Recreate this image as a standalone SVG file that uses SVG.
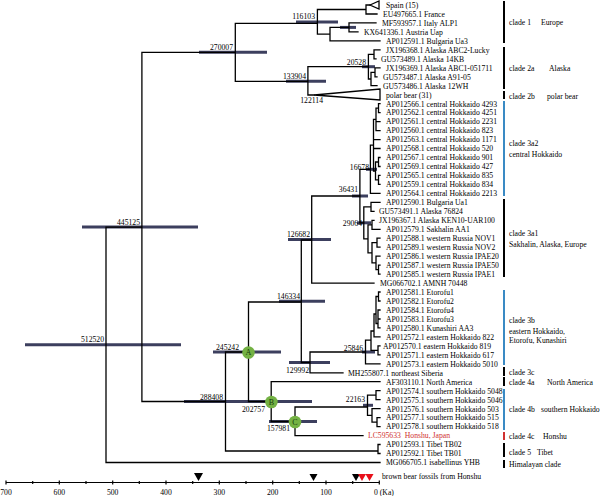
<svg xmlns="http://www.w3.org/2000/svg" width="600" height="496" viewBox="0 0 600 496">
<style>
text{font-family:"Liberation Serif","Times New Roman",serif;font-size:7.7px;fill:#000}
.br{fill:none;stroke:#000;stroke-width:1.3;stroke-linecap:square}
.hpd{fill:none;stroke:#3c3f5e;stroke-width:3}
.nl{text-anchor:end}
.cb{stroke:#000;stroke-width:2}
.cbb{stroke:#3a8ac4;stroke-width:2}
.cbr{stroke:#d03030;stroke-width:2}
.circ{fill:#74b244}
.cl{font-size:8px;text-anchor:middle;fill:#173a0c}
.ax{stroke:#000;stroke-width:1.2}
.tk{text-anchor:middle}
</style>
<rect width="600" height="496" fill="#fff"/>
<g id="connectors">
<g class="hpd">
<path d="M25 344.8H181"/>
<path d="M82 227.1H198"/>
<path d="M199 52.3H267"/>
<path d="M296 21.9H338"/>
<path d="M286 81.3H326"/>
<path d="M362 66.7H375"/>
<path d="M184 401.5H262"/>
<path d="M213 352H281"/>
<path d="M240 401.5H312"/>
<path d="M269 421.5H317"/>
<path d="M279 301.3H325"/>
<path d="M288 239.5H331"/>
<path d="M352 196H368"/>
<path d="M366 169.3H377"/>
<path d="M357 222.8H371"/>
<path d="M289 362.4H330"/>
<path d="M362 352H375"/>
<path d="M363 405.3H373"/>
<path d="M340 27.4H356"/>
</g>
<path class="br" d="M106 227.1V462.5M106 227.1H141.9M106 462.5H380
M141.9 52.3V401.5M141.9 52.3H235.3M141.9 401.5H225.5
M235.3 23.3V81.3M235.3 23.3H317.4M235.3 81.3H307.9
M317.4 9.5V34.2M317.4 9.5H366M317.4 34.2H330
M366 5V14M366 5H370M366 14H377
M330 27.4V40.9M330 27.4H349M330 40.9H380
M349 22.9V31.9M349 22.9H376M349 31.9H358
M307.9 66.7V95M307.9 66.7H368.4M307.9 95H314.2
M368.4 54.4V79M368.4 54.4H374M368.4 79H371
M374 49.9V58.8M374 49.9H380M374 58.8H376
M371 72.3V85.7M371 72.3H375M371 85.7H377
M375 67.8V76.8M375 67.8H380M375 76.8H377
M225.5 352V451M225.5 451H378M225.5 352H248.5
M378 444.5V453.5M378 444.5H380M378 453.5H380
M248.5 302V401.5M248.5 302H301.3M248.5 401.5H271.2
M271.2 381.7V421.5M271.2 381.7H380M271.2 421.5H295
M295 407V435.6M295 407H367.5M295 435.6H363
M367.5 395.2V415.4M367.5 395.2H376M367.5 415.4H372
M376 390.7V399.7M376 390.7H380M376 399.7H380
M372 408.7V422.1M372 408.7H380M372 422.1H377
M377 417.6V426.6M377 417.6H380M377 426.6H380
M301.3 240V362.5M301.3 240H311.7M301.3 362.5H310
M311.7 196V283.1M311.7 196H359.9M311.7 283.1H374
M359.9 169.3V222.8M359.9 169.3H370.4M359.9 222.8H363.8
M370.4 145.2V193.4M370.4 145.2H373.5M370.4 193.4H380
M373.5 119.4V171M373.5 119.4H376M373.5 171H375.5M373.5 139.6H380M373.5 148.5H380
M376 108.2V130.6M376 108.2H378.5M376 121.6H380M376 130.6H380
M378.5 103.7V112.6M378.5 103.7H380M378.5 112.6H380
M375.5 162V179.9M375.5 162H378.5M375.5 179.9H378.5
M378.5 157.5V166.5M378.5 157.5H380M378.5 166.5H380
M378.5 175.4V184.4M378.5 175.4H380M378.5 184.4H380
M363.8 206.8V238.8M363.8 206.8H371M363.8 238.8H368
M371 202.3V211.3M371 202.3H380M371 211.3H374
M368 224.8V252.8M368 224.8H372M368 252.8H372
M372 220.3V229.3M372 220.3H374M372 229.3H380
M372 242.7V262.9M372 242.7H377M372 262.9H376
M377 238.2V247.2M377 238.2H380M377 247.2H380
M376 256.2V269.6M376 256.2H380M376 269.6H378.5
M378.5 265.1V274.1M378.5 265.1H380M378.5 274.1H380
M310 352V372.8M310 352H365.5M310 372.8H343
M365.5 340.2V363.8M365.5 340.2H371M365.5 363.8H380
M371 331V350.4M371 331H374M371 350.4H378
M378 345.9V354.8M378 345.9H380M378 354.8H380
M374 314V336.9M374 314H376M374 336.9H380
M376 296.5V323.5M376 296.5H378.5M376 323.5H378
M378.5 292V301M378.5 292H380M378.5 301H380
M378 310V327.9M378 310H380M378 319H380M378 327.9H380"/>
<path class="br" d="M370 5L379 1V9Z"/>
<path class="br" d="M314.2 95L380 89V100Z"/>
</g>
<g id="nodeA"><text class="nl" x="239" y="350">245242</text><circle class="circ" cx="248.5" cy="352.5" r="6.3"/><text class="cl" x="248.5" y="355.3">A</text></g>
<g id="nodeB"><text class="nl" x="265" y="411.5">202757</text><circle class="circ" cx="271.4" cy="402" r="6.3"/><text class="cl" x="271.4" y="404.8">B</text></g>
<g id="nodeC"><text class="nl" x="290" y="430.5">157981</text><circle class="circ" cx="295" cy="422" r="6.3"/><text class="cl" x="295" y="424.8">C</text></g>
<g id="node-labels">
<text class="nl" x="104" y="342">512520</text>
<text class="nl" x="140" y="224.5">445125</text>
<text class="nl" x="233" y="49.5">270007</text>
<text class="nl" x="315" y="19">116103</text>
<text class="nl" x="306" y="78.5">133904</text>
<text class="nl" x="323" y="103">122114</text>
<text class="nl" x="366" y="64.5">20528</text>
<text class="nl" x="369" y="170">16678</text>
<text class="nl" x="358" y="192">36431</text>
<text class="nl" x="362" y="226">29064</text>
<text class="nl" x="310" y="237">126682</text>
<text class="nl" x="300" y="298.5">146334</text>
<text class="nl" x="223" y="399.5">288408</text>
<text class="nl" x="309" y="373">129992</text>
<text class="nl" x="363" y="350.5">25846</text>
<text class="nl" x="365" y="402">22163</text>
</g>
<g id="tips">
<text x="386" y="7.8">Spain (15)</text>
<text x="383" y="16.8">EU497665.1 France</text>
<text x="382" y="25.7">MF593957.1 Italy ALP1</text>
<text x="364" y="34.7">KX641336.1 Austria Uap</text>
<text x="386" y="43.7">AP012591.1 Bulgaria Ua3</text>
<text x="386" y="52.7">JX196368.1 Alaska ABC2-Lucky</text>
<text x="381" y="61.6">GU573489.1 Alaska 14KB</text>
<text x="386" y="70.6">JX196369.1 Alaska ABC1-051711</text>
<text x="383" y="79.6">GU573487.1 Alaska A91-05</text>
<text x="383" y="88.5">GU573486.1 Alaska 12WH</text>
<text x="386" y="97.5">polar bear (31)</text>
<text x="386" y="106.5">AP012566.1 central Hokkaido 4293</text>
<text x="386" y="115.4">AP012562.1 central Hokkaido 4251</text>
<text x="386" y="124.4">AP012561.1 central Hokkaido 2231</text>
<text x="386" y="133.4">AP012560.1 central Hokkaido 823</text>
<text x="386" y="142.4">AP012563.1 central Hokkaido 1171</text>
<text x="386" y="151.3">AP012568.1 central Hokkaido 520</text>
<text x="386" y="160.3">AP012567.1 central Hokkaido 901</text>
<text x="386" y="169.3">AP012569.1 central Hokkaido 427</text>
<text x="386" y="178.2">AP012565.1 central Hokkaido 835</text>
<text x="386" y="187.2">AP012559.1 central Hokkaido 834</text>
<text x="386" y="196.2">AP012564.1 central Hokkaido 2213</text>
<text x="386" y="205.1">AP012590.1 Bulgaria  Ua1</text>
<text x="379" y="214.1">GU573491.1 Alaska 76824</text>
<text x="379" y="223.1">JX196367.1 Alaska KEN10-UAR100</text>
<text x="386" y="232.1">AP012579.1 Sakhalin AA1</text>
<text x="386" y="241">AP012588.1 western Russia NOV1</text>
<text x="386" y="250">AP012589.1 western Russia NOV2</text>
<text x="386" y="259">AP012586.1 western Russia IPAE20</text>
<text x="386" y="267.9">AP012587.1 western Russia IPAE50</text>
<text x="386" y="276.9">AP012585.1 western Russia IPAE1</text>
<text x="380" y="285.9">MG066702.1 AMNH 70448</text>
<text x="386" y="294.8">AP012581.1 Etorofu1</text>
<text x="386" y="303.8">AP012582.1 Etorofu2</text>
<text x="386" y="312.8">AP012584.1 Etorofu4</text>
<text x="386" y="321.8">AP012583.1 Etorofu3</text>
<text x="386" y="330.7">AP012580.1 Kunashiri AA3</text>
<text x="386" y="339.7">AP012572.1 eastern Hokkaido 822</text>
<text x="383" y="348.7">AP012570.1 eastern Hokkaido 819</text>
<text x="386" y="357.6">AP012571.1 eastern Hokkaido 617</text>
<text x="386" y="366.6">AP012573.1 eastern Hokkaido 5010</text>
<text x="348" y="375.6">MH255807.1 northeast Siberia</text>
<text x="386" y="384.5">AF303110.1 North America</text>
<text x="386" y="393.5">AP012574.1 southern Hokkaido 5048</text>
<text x="386" y="402.5">AP012575.1 southern Hokkaido 5046</text>
<text x="386" y="411.5">AP012576.1 southern Hokkaido 503</text>
<text x="386" y="420.4">AP012577.1 southern Hokkaido 515</text>
<text x="386" y="429.4">AP012578.1 southern Hokkaido 518</text>
<text x="368" y="438.4" style="fill:#d03030">LC595633&#160; Honshu, Japan</text>
<text x="386" y="447.3">AP012593.1 Tibet TB02</text>
<text x="386" y="456.3">AP012592.1 Tibet TB01</text>
<text x="386" y="465.3">MG066705.1 isabellinus YHB</text>
</g>
<g id="clades">
<path class="cb" d="M504 1V43M504 47V89M504 91V99M504 199V277M504 367V376M504 377V386M504 443V457M504 460V468"/>
<path class="cbb" d="M504 101V196M504 290V365M504 389V430"/>
<path class="cbr" d="M504 432V440"/>
<text x="509" y="25">clade 1</text><text x="541" y="25">Europe</text>
<text x="509" y="71">clade 2a</text><text x="549" y="71">Alaska</text>
<text x="509" y="99">clade 2b</text><text x="547" y="99">polar bear</text>
<text x="509" y="146">clade 3a2</text><text x="509" y="157">central Hokkaido</text>
<text x="509" y="236">clade 3a1</text><text x="509" y="247">Sakhalin, Alaska, Europe</text>
<text x="509" y="323">clade 3b</text><text x="509" y="334">eastern Hokkaido,</text><text x="509" y="343">Etorofu, Kunashiri</text>
<text x="509" y="375">clade 3c</text>
<text x="509" y="385">clade 4a</text><text x="547" y="385">North America</text>
<text x="509" y="412">clade 4b</text><text x="541" y="412">southern Hokkaido</text>
<text x="509" y="439">clade 4c</text><text x="543" y="439">Honshu</text>
<text x="509" y="455">clade 5</text><text x="537" y="455">Tibet</text>
<text x="509" y="467">Himalayan clade</text>
</g>
<g id="fossils">
<polygon points="194,473 203,473 198.5,481" fill="#000"/>
<polygon points="309.5,474 317.5,474 313.5,481" fill="#000"/>
<polygon points="352,474 360,474 356,481" fill="#000"/>
<polygon points="358,474 366,474 362,481" fill="#e8101a"/>
<polygon points="365.5,474 373.5,474 369.5,481" fill="#e8101a"/>
<text x="382" y="479">brown bear fossils from Honshu</text>
</g>
<g id="axis">
<path class="ax" d="M6 482.5H379.3M6 480.5V484.5M32.7 481V484M59.3 480.5V484.5M86 481V484M112.7 480.5V484.5M139.3 481V484M166 480.5V484.5M192.7 481V484M219.3 480.5V484.5M246 481V484M272.7 480.5V484.5M299.3 481V484M326 480.5V484.5M352.7 481V484M379.3 480.5V484.5"/>
<text class="tk" x="6" y="495">700</text>
<text class="tk" x="59.3" y="495">600</text>
<text class="tk" x="112.7" y="495">500</text>
<text class="tk" x="166" y="495">400</text>
<text class="tk" x="219.3" y="495">300</text>
<text class="tk" x="272.7" y="495">200</text>
<text class="tk" x="326" y="495">100</text>
<text x="374" y="495">0 (Ka)</text>
</g>
</svg>
